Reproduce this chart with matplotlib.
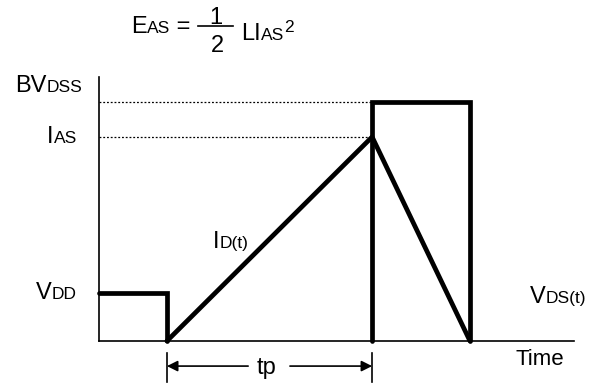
import matplotlib
matplotlib.use("Agg")
import matplotlib.pyplot as plt
from matplotlib.lines import Line2D

plt.rcParams['font.family'] = ['Liberation Sans', 'DejaVu Sans']

W, H = 601, 385

# waveform key points (time axis 0..10, level axis 0..10)
t_on = 1.43      # gate turn-off, current starts to rise
t_peak = 5.75    # end of tp, current at IAS
t_end = 7.81     # V_DS falls back
v_dd = 1.82
i_as = 7.73
bv_dss = 9.05

vds_t1 = [0, t_on, t_on]
vds_v1 = [v_dd, v_dd, 0]
vds_t2 = [t_peak, t_peak, t_end, t_end]
vds_v2 = [0, bv_dss, bv_dss, 0]
id_t = [t_on, t_peak, t_end]
id_v = [0, i_as, 0]

fig = plt.figure(figsize=(W / 100, H / 100), dpi=100)
ax = fig.add_axes([99 / W, 1 - 341 / H, (574 - 99) / W, (341 - 77) / H])
ax.set_xlim(0, 10)
ax.set_ylim(0, 10)
for side in ['top', 'right']:
    ax.spines[side].set_visible(False)
for side in ['left', 'bottom']:
    ax.spines[side].set_linewidth(1.2)
ax.set_xticks([])
ax.set_yticks([])
ax.patch.set_alpha(0)

thick = dict(color='black', lw=3.4, solid_capstyle='round', solid_joinstyle='miter', clip_on=False)
ax.plot(vds_t1, vds_v1, **thick)
ax.plot(vds_t2, vds_v2, **thick)
ax.plot(id_t, id_v, **thick)

# dotted reference levels
for lev in [bv_dss, i_as]:
    ax.plot([0, t_peak], [lev, lev], color='black', lw=0.9, ls=(0, (1.5, 1.5)), clip_on=False)

# tp dimension
for tx in [t_on, t_peak]:
    ax.plot([tx, tx], [-0.45, -1.55], color='black', lw=1.2, clip_on=False)
arrow = dict(arrowstyle='-|>', color='black', lw=1.2, mutation_scale=16, shrinkA=0, shrinkB=0)
ax.annotate('', xy=(t_on, -0.95), xytext=(3.14, -0.95), arrowprops=arrow, annotation_clip=False)
ax.annotate('', xy=(t_peak, -0.95), xytext=(4.02, -0.95), arrowprops=arrow, annotation_clip=False)


def label(parts, x, y):
    """parts: list of (text, size, raise_px); x, y: pixel position of baseline start"""
    fy = 1 - y / H
    prev = None
    for s, size, up in parts:
        yy = fy + up / H
        if prev is None:
            prev = fig.text(x / W, yy, s, fontsize=size, ha='left', va='baseline')
        else:
            prev = ax.annotate(s, xy=(1, yy), xycoords=(prev, 'figure fraction'),
                               fontsize=size, ha='left', va='baseline', annotation_clip=False)
    return prev


big, small = 17, 12.5
label([('BV', big, 0), ('DSS', small, 0)], 15, 92)
label([('I', big, 0), ('AS', small, 0)], 47, 143)
label([('V', big, 0), ('DD', small, 0)], 36, 299)
label([('I', big, 0), ('D(t)', small, 0)], 213, 248)
label([('V', big, 0), ('DS(t)', small, 0)], 530, 303)
fig.text(516 / W, 1 - 365 / H, 'Time', fontsize=16, ha='left', va='baseline')
fig.text(257 / W, 1 - 374 / H, 'tp', fontsize=17, ha='left', va='baseline')

# equation E_AS = 1/2 L I_AS^2
label([('E', big, 0), ('AS', small, 0), (' =', big, 0)], 131, 33)
fig.text(216 / W, 1 - 24 / H, '1', fontsize=big, ha='center', va='baseline')
fig.text(217 / W, 1 - 52 / H, '2', fontsize=big, ha='center', va='baseline')
fig.add_artist(Line2D([198 / W, 233 / W], [1 - 26 / H, 1 - 26 / H], color='black', lw=1.2))
label([('LI', big, 0), ('AS', small, 0), ('2', small, 8)], 241, 40)

fig.savefig('out.png', dpi=100)
